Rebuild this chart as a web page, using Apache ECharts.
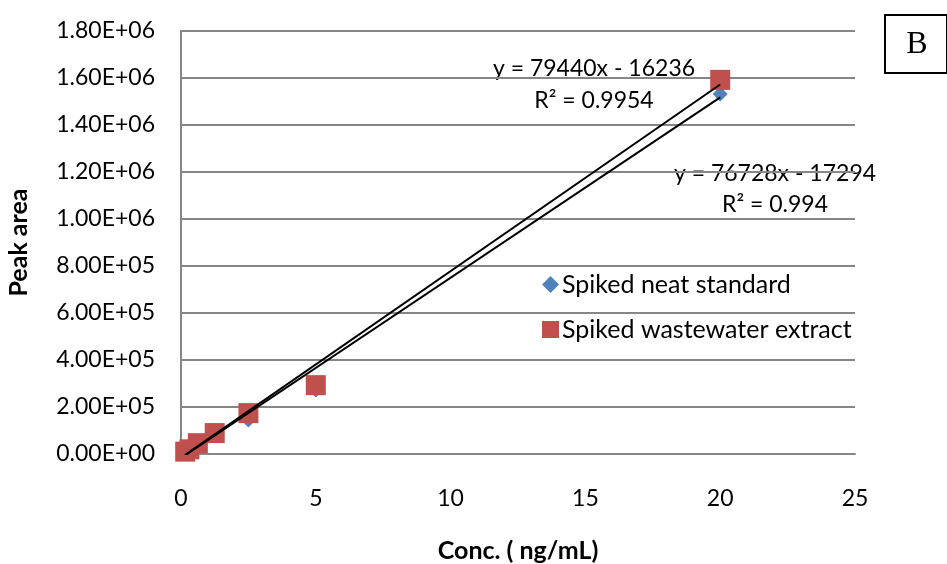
<!DOCTYPE html>
<html>
<head>
<meta charset="utf-8">
<script src="https://cdn.jsdelivr.net/npm/echarts@6/dist/echarts.min.js"></script>
<style>
  html, body { margin: 0; padding: 0; background: #fff; }
  #chart { width: 947px; height: 564px; }
</style>
</head>
<body>
<div id="chart"></div>
<script>
// Concentrations (ng/mL) and measured peak areas
const conc = [0.156, 0.3125, 0.625, 1.25, 2.5, 5, 20];
const neatStandard = [9000, 19000, 44000, 100000, 145000, 272000, 1532000];
const wastewaterExtract = [10000, 20000, 46000, 89000, 174000, 293000, 1592000];

// Linear fits as reported on the chart
const neatFit = { slope: 76728, intercept: -17294, r2: '0.994' };
const wasteFit = { slope: 79440, intercept: -16236, r2: '0.9954' };

const yTicks = { min: 0, max: 1800000, step: 200000 };
const xTicks = { min: 0, max: 25, step: 5 };

const FONT = 'Lato';
const BLUE = '#4F81BD';
const RED = '#C0504D';

function sci(v) {
  if (v === 0) return '0.00E+00';
  const e = Math.floor(Math.log10(Math.abs(v)));
  const m = v / Math.pow(10, e);
  const es = (e < 0 ? '-' : '+') + String(Math.abs(e)).padStart(2, '0');
  return m.toFixed(2) + 'E' + es;
}

function fitLine(fit) {
  const x0 = Math.min(...conc), x1 = Math.max(...conc);
  return [[x0, fit.slope * x0 + fit.intercept], [x1, fit.slope * x1 + fit.intercept]];
}

function fmtEq(fit) {
  const sign = fit.intercept < 0 ? ' - ' : ' + ';
  return 'y = ' + fit.slope + 'x' + sign + Math.abs(fit.intercept);
}

const eqStyle = { fontFamily: FONT, fontSize: 23, fill: '#000', align: 'center', verticalAlign: 'middle' };

const chart = echarts.init(document.getElementById('chart'));
chart.setOption({
  animation: false,
  backgroundColor: '#fff',
  grid: { left: 181, right: 92, top: 31, bottom: 110, containLabel: false, outerBoundsMode: 'none' },
  xAxis: {
    type: 'value', min: xTicks.min, max: xTicks.max, interval: xTicks.step,
    name: 'Conc. ( ng/mL)', nameLocation: 'middle', nameGap: 84,
    nameTextStyle: { fontFamily: FONT, fontWeight: 'bold', fontSize: 25, color: '#000' },
    axisLine: { show: true, onZero: false, lineStyle: { color: '#868686', width: 2 } },
    axisTick: { show: false },
    splitLine: { show: false },
    axisLabel: { fontFamily: FONT, fontSize: 23, color: '#000', margin: 33 }
  },
  yAxis: {
    type: 'value', min: yTicks.min, max: yTicks.max, interval: yTicks.step,
    name: 'Peak area', nameLocation: 'middle', nameGap: 150,
    nameTextStyle: { fontFamily: FONT, fontWeight: 'bold', fontSize: 25, color: '#000' },
    axisLine: { show: true, lineStyle: { color: '#868686', width: 2 } },
    axisTick: { show: false },
    splitLine: { show: true, lineStyle: { color: '#868686', width: 2 } },
    axisLabel: { fontFamily: FONT, fontSize: 23, color: '#000', margin: 26, formatter: sci }
  },
  legend: {
    orient: 'vertical', left: 537, top: 267, itemGap: 20,
    itemWidth: 17, itemHeight: 17,
    textStyle: { fontFamily: FONT, fontSize: 25, color: '#000', padding: [0, 0, 0, -2] },
    data: [
      { name: 'Spiked neat standard', icon: 'diamond' },
      { name: 'Spiked wastewater extract', icon: 'rect' }
    ]
  },
  graphic: [
    { type: 'rect', left: 884, top: 14, shape: { width: 62, height: 58 },
      style: { fill: '#fff', stroke: '#000', lineWidth: 2 } },
    { type: 'text', x: 917, y: 45,
      style: { text: 'B', fontFamily: 'Liberation Serif', fontSize: 32, fill: '#000', align: 'center', verticalAlign: 'middle' } },
    { type: 'text', x: 594, y: 69, style: Object.assign({ text: fmtEq(wasteFit) }, eqStyle) },
    { type: 'text', x: 594, y: 101, style: Object.assign({ text: 'R² = ' + wasteFit.r2 }, eqStyle) },
    { type: 'text', x: 775, y: 174, style: Object.assign({ text: fmtEq(neatFit) }, eqStyle) },
    { type: 'text', x: 775, y: 205, style: Object.assign({ text: 'R² = ' + neatFit.r2 }, eqStyle) }
  ],
  series: [
    {
      name: 'Spiked neat standard', type: 'scatter', symbol: 'diamond', symbolSize: 15,
      itemStyle: { color: BLUE, opacity: 1 }, z: 3,
      data: conc.map((x, i) => [x, neatStandard[i]])
    },
    {
      name: 'Spiked wastewater extract', type: 'scatter', symbol: 'rect', symbolSize: 20,
      itemStyle: { color: RED, opacity: 1 }, z: 4,
      data: conc.map((x, i) => [x, wastewaterExtract[i]])
    },
    {
      name: 'neat fit', type: 'line', data: fitLine(neatFit), symbol: 'none', z: 5,
      lineStyle: { color: '#000', width: 2 }, silent: true
    },
    {
      name: 'waste fit', type: 'line', data: fitLine(wasteFit), symbol: 'none', z: 5,
      lineStyle: { color: '#000', width: 2 }, silent: true
    }
  ]
});
</script>
</body>
</html>
